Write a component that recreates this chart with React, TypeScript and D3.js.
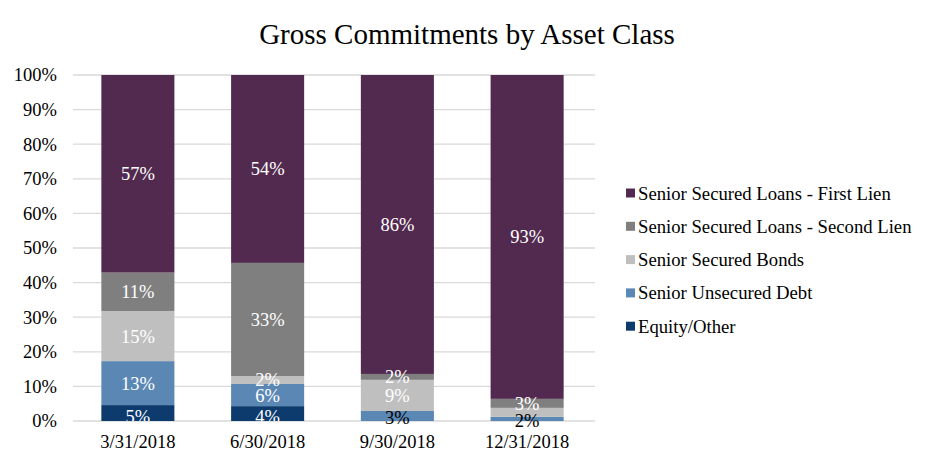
import React from "react";
import * as d3 from "d3";

const categories = ["3/31/2018", "6/30/2018", "9/30/2018", "12/31/2018"];
const seriesNames = [
  "Equity/Other",
  "Senior Unsecured Debt",
  "Senior Secured Bonds",
  "Senior Secured Loans - Second Lien",
  "Senior Secured Loans - First Lien",
];
const equityOther = [4.6, 4.3, 0, 0];
const seniorUnsecured = [12.7, 6.4, 2.9, 1.2];
const securedBonds = [14.5, 2.3, 9.0, 2.6];
const secondLien = [11.1, 32.7, 1.7, 2.6];
const firstLien = [57.1, 54.3, 86.4, 93.6];
const equityLabels = ["5%", "4%", "", ""];
const unsecuredLabels = ["13%", "6%", "3%", "2%"];
const bondsLabels = ["15%", "2%", "9%", ""];
const secondLabels = ["11%", "33%", "2%", "3%"];
const firstLabels = ["57%", "54%", "86%", "93%"];
const yTicks = [0, 10, 20, 30, 40, 50, 60, 70, 80, 90, 100];

const colors = ["#0D3B6E", "#5B87B5", "#BFBFBF", "#7F7F7F", "#532A4F"];
const seriesValues = [equityOther, seniorUnsecured, securedBonds, secondLien, firstLien];
const seriesLabels = [equityLabels, unsecuredLabels, bondsLabels, secondLabels, firstLabels];

export default function App() {
  const W = 934, H = 467;
  const font = "'Liberation Serif', 'Times New Roman', serif";
  const x = d3.scaleBand<string>().domain(categories).range([73, 592]).paddingInner(0.437).paddingOuter(0.2185);
  const y = d3.scaleLinear().domain([0, 100]).range([421, 75]);

  const rows = categories.map((c, i) => {
    const r: any = { cat: c };
    seriesNames.forEach((s, k) => (r[s] = seriesValues[k][i]));
    return r;
  });
  const stacked = d3.stack<any>().keys(seriesNames)(rows);

  const legendOrder = [4, 3, 2, 1, 0];

  return (
    <svg width={W} height={H} style={{ position: "absolute", left: 0, top: 0, background: "#fff" }}>
      <defs>
        <clipPath id="plotClip">
          <rect x={73} y={y(100)} width={519} height={y(0) - y(100)} />
        </clipPath>
      </defs>
      <rect width={W} height={H} fill="#fff" />
      <text x={467} y={44} textAnchor="middle" fontFamily={font} fontSize={29} fill="#000">
        Gross Commitments by Asset Class
      </text>
      {yTicks.map((t) => (
        <g key={t}>
          <line x1={73} x2={595} y1={y(t)} y2={y(t)} stroke="#D9D9D9" strokeWidth={1.3} />
          <text x={57} y={y(t)} dy="0.35em" textAnchor="end" fontFamily={font} fontSize={18.5} fill="#000">
            {t}%
          </text>
        </g>
      ))}
      {stacked.map((layer, k) => (
        <g key={layer.key}>
          {layer.map((d, i) => (
            <rect
              key={i}
              x={x(categories[i])}
              width={x.bandwidth()}
              y={y(d[1])}
              height={Math.max(0, y(d[0]) - y(d[1]))}
              fill={colors[k]}
            />
          ))}
        </g>
      ))}
      {stacked.map((layer, k) =>
        layer.map((d, i) => {
          const lbl = seriesLabels[k][i];
          if (!lbl) return null;
          const isBottom = d[0] === 0;
          const v = d[1] - d[0];
          const dark = isBottom && v < 3.5;
          const cy = (y(d[0]) + y(d[1])) / 2 + (isBottom ? (dark ? 1.5 : 3) : 0);
          return (
            <text
              key={`${k}-${i}`}
              x={(x(categories[i]) as number) + x.bandwidth() / 2}
              y={cy}
              dy="0.35em"
              textAnchor="middle"
              fontFamily={font}
              fontSize={18.5}
              fill={dark ? "#000" : "#fff"}
              clipPath={dark ? undefined : "url(#plotClip)"}
            >
              {lbl}
            </text>
          );
        })
      )}
      {categories.map((c) => (
        <text
          key={c}
          x={(x(c) as number) + x.bandwidth() / 2}
          y={442}
          dy="0.35em"
          textAnchor="middle"
          fontFamily={font}
          fontSize={18.5}
          fill="#000"
        >
          {c}
        </text>
      ))}
      {legendOrder.map((k, j) => (
        <g key={k} transform={`translate(626, ${193 + j * 33.3})`}>
          <rect x={0} y={-4.5} width={9} height={9} fill={colors[k]} />
          <text x={12} y={0} dy="0.35em" fontFamily={font} fontSize={18.7} fill="#000">
            {seriesNames[k]}
          </text>
        </g>
      ))}
    </svg>
  );
}
